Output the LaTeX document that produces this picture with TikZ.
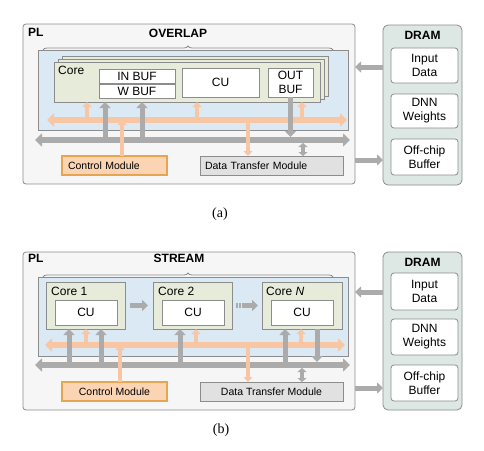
\documentclass[tikz,border=0pt]{standalone}
\usepackage{fontspec}
\setmainfont{Liberation Sans}
\newfontfamily\capfont{Liberation Serif}
\usetikzlibrary{arrows.meta,decorations.pathreplacing}

\definecolor{linegray}{HTML}{8C8C8C}
\definecolor{arrowgray}{HTML}{ABABAB}
\definecolor{plfill}{HTML}{F6F6F6}
\definecolor{bluefill}{HTML}{DAE9F4}
\definecolor{corefill}{HTML}{E7EBDA}
\definecolor{dramfill}{HTML}{DDE7E4}
\definecolor{dtmfill}{HTML}{E1E1E1}
\definecolor{peach}{HTML}{F8C6A2}
\definecolor{ctrlfill}{HTML}{FBD4B4}
\definecolor{ctrlline}{HTML}{E9A452}

\begin{document}
\begin{tikzpicture}[x=1pt,y=-1pt]
\useasboundingbox (0,0) rectangle (484,450);

\tikzset{box/.style = {draw=linegray, line width=0.8pt, inner sep=0pt, outer sep=0pt}}
\tikzset{txt/.style = {font=\fontsize{12}{14}\selectfont, inner sep=0pt}}
\tikzset{small/.style = {font=\fontsize{10.5}{12}\selectfont}}
\tikzset{title/.style = {font=\bfseries\fontsize{12}{14}\selectfont, inner sep=0pt}}
\tikzset{topbrace/.style = {draw=linegray, line width=0.8pt, decorate, decoration={brace,amplitude=4pt}}}
\tikzset{garrow/.style = {draw=arrowgray, line width=5pt, -{Triangle[length=6pt,width=11pt]}}}
\tikzset{gdouble/.style = {draw=arrowgray, line width=4pt, {Triangle[length=4pt,width=9pt]}-{Triangle[length=4pt,width=9pt]}}}
\tikzset{gbar/.style = {draw=arrowgray, line width=6pt, {Triangle[length=7pt,width=13pt]}-{Triangle[length=7pt,width=13pt]}}}
\tikzset{oarrow/.style = {draw=peach, line width=4pt, -{Triangle[length=5pt,width=9pt]}}}
\tikzset{obar/.style = {draw=peach, line width=6pt, {Triangle[length=7pt,width=13pt]}-{Triangle[length=7pt,width=13pt]}}}

% (a) overlap
\node[box, fill=plfill, rounded corners=3pt, minimum width=332pt, minimum height=160pt] (apl) at (189,104) {};
\node[title, anchor=west] (apltext) at (28,32) {PL};
\node[title] (atitle) at (178,33) {OVERLAP};
\draw[topbrace] (43,50) -- (333,50);
\node[box, fill=bluefill, minimum width=310pt, minimum height=80pt] (ablue) at (193,90) {};
\node[box, fill=corefill, minimum width=266pt, minimum height=40pt] (acore3) at (195,76) {};
\node[box, fill=corefill, minimum width=266pt, minimum height=40pt] (acore2) at (191,79) {};
\node[box, fill=corefill, minimum width=266pt, minimum height=40pt] (acore) at (187,82) {};
\node[txt, anchor=base west] (acoretext) at (58,74) {Core};
\node[box, txt, fill=white, minimum width=76pt, minimum height=14pt] (ainbuf) at (137,76) {IN BUF};
\node[box, txt, fill=white, minimum width=76pt, minimum height=14pt] (awbuf) at (137,91) {W BUF};
\node[box, txt, fill=white, minimum width=77pt, minimum height=29pt] (acu) at (220.5,82.5) {CU};
\node[box, txt, fill=white, align=center, minimum width=45pt, minimum height=29pt] (aoutbuf) at (290.5,82.5) {OUT\\BUF};
\node[box, small, fill=ctrlfill, draw=ctrlline, line width=1.2pt, text width=93pt, inner xsep=6pt, align=left, minimum height=19pt] (actrl) at (114.5,165.5) {Control Module};
\node[box, small, fill=dtmfill, text width=133pt, inner xsep=5pt, align=left, minimum height=19pt] (adtm) at (271.5,165.5) {Data Transfer Module};

\node[box, fill=dramfill, rounded corners=5pt, minimum width=79pt, minimum height=160pt] (adram) at (422.5,105) {};
\node[title] (adramtext) at (422.5,35.5) {DRAM};
\node[box, txt, fill=white, rounded corners=3pt, align=center, minimum width=67pt, minimum height=35pt] (ainput) at (424.5,65.5) {Input\\Data};
\node[box, txt, fill=white, rounded corners=3pt, align=center, minimum width=67pt, minimum height=34pt] (aweights) at (424.5,111) {DNN\\Weights};
\node[box, txt, fill=white, rounded corners=3pt, align=center, minimum width=67pt, minimum height=36pt] (aoffchip) at (424.5,157) {Off-chip\\Buffer};

% bars
\coordinate (aoL) at (47,120);
\coordinate (aoR) at (347,120);
\coordinate (agL) at (35,140);
\coordinate (agR) at (350,140);
\draw[obar] (aoL) -- (aoR);
\coordinate (ao1) at (87,120);
\coordinate (ao2) at (197,120);
\coordinate (ao3) at (302,120);
\draw[oarrow] (ao1) -- (ao1 |- acore.south);
\draw[oarrow] (ao2) -- (ao2 |- acore.south);
\draw[oarrow] (ao3) -- (ao3 |- acore.south);
\draw[gbar] (agL) -- (agR);
\coordinate (ag1) at (105,140);
\coordinate (ag2) at (142,140);
\coordinate (ag3) at (303,140);
\draw[garrow] (ag1) -- (ag1 |- acore.south);
\draw[garrow] (ag2) -- (ag2 |- acore.south);
\draw[garrow, shorten >=3pt] (aoutbuf.south) -- (aoutbuf.south |- agL);
\draw[gdouble, shorten <=3pt] (ag3) -- (ag3 |- adtm.north);
\coordinate (ac1) at (122,120);
\coordinate (ac2) at (248,120);
\draw[oarrow] (ac1 |- actrl.north) -- (ac1);
\draw[oarrow] (ac2) -- (ac2 |- adtm.north);

% dram links
\draw[garrow] (adram.west |- 0,67) -- (apl.east |- 0,67);
\draw[garrow] (apl.east |- 0,160) -- (adram.west |- 0,160);

\node[font=\fontsize{14}{16}\selectfont] (acap) at (220,214) {\capfont (a)};

% (b) stream
\begin{scope}[shift={(0,226)}]
\node[box, fill=plfill, rounded corners=3pt, minimum width=332pt, minimum height=158pt] (bpl) at (189,105) {};
\node[title, anchor=west] (bpltext) at (28,32) {PL};
\node[title] (btitle) at (179,32) {STREAM};
\draw[topbrace] (43,51) -- (333,51);
\node[box, fill=bluefill, minimum width=310pt, minimum height=79pt] (bblue) at (193,90.5) {};
\node[box, fill=corefill, minimum width=79pt, minimum height=47pt] (bcore1) at (85.5,79.5) {};
\node[box, fill=corefill, minimum width=79pt, minimum height=47pt] (bcore2) at (192.5,79.5) {};
\node[box, fill=corefill, minimum width=80pt, minimum height=47pt] (bcoreN) at (302,79.5) {};
\node[txt, anchor=base west] (bcoretext1) at (51,69) {Core 1};
\node[txt, anchor=base west] (bcoretext2) at (158,69) {Core 2};
\node[txt, anchor=base west] (bcoretextN) at (266,69) {Core \textit{N}};
\node[box, txt, fill=white, minimum width=62pt, minimum height=25pt] (bcu1) at (86,86.5) {CU};
\node[box, txt, fill=white, minimum width=62pt, minimum height=25pt] (bcu2) at (193,86.5) {CU};
\node[box, txt, fill=white, minimum width=62pt, minimum height=25pt] (bcuN) at (302,86.5) {CU};
\node[box, small, fill=ctrlfill, draw=ctrlline, line width=1.2pt, minimum width=105pt, minimum height=19pt] (bctrl) at (114.5,165.5) {Control Module};
\node[box, small, fill=dtmfill, minimum width=143pt, minimum height=19pt] (bdtm) at (271.5,165.5) {Data Transfer Module};

\node[box, fill=dramfill, rounded corners=5pt, minimum width=79pt, minimum height=158pt] (bdram) at (422.5,105) {};
\node[title] (bdramtext) at (422.5,36) {DRAM};
\node[box, txt, fill=white, rounded corners=3pt, align=center, minimum width=67pt, minimum height=37pt] (binput) at (424.5,65.5) {Input\\Data};
\node[box, txt, fill=white, rounded corners=3pt, align=center, minimum width=67pt, minimum height=36pt] (bweights) at (424.5,111) {DNN\\Weights};
\node[box, txt, fill=white, rounded corners=3pt, align=center, minimum width=67pt, minimum height=36pt] (boffchip) at (424.5,157) {Off-chip\\Buffer};

% core chain
\draw[garrow, shorten <=5pt, shorten >=5pt] (bcore1) -- (bcore2);
\draw[garrow, dash pattern=on 1.5pt off 1.5pt on 1.5pt off 1.5pt on 30pt, shorten <=4pt, shorten >=4pt] (bcore2) -- (bcoreN);

% bars
\coordinate (boL) at (45,119);
\coordinate (boR) at (345,119);
\coordinate (bgL) at (35,139);
\coordinate (bgR) at (350,139);
\draw[obar] (boL) -- (boR);
\coordinate (bo1) at (86,119);
\coordinate (bo2) at (196,119);
\coordinate (bo3) at (301,119);
\draw[oarrow] (bo1) -- (bo1 |- bcore1.south);
\draw[oarrow] (bo2) -- (bo2 |- bcore2.south);
\draw[oarrow] (bo3) -- (bo3 |- bcoreN.south);
\draw[gbar] (bgL) -- (bgR);
\coordinate (bg1) at (69,139);
\coordinate (bg2) at (101,139);
\coordinate (bg3) at (180,139);
\coordinate (bg4) at (285,139);
\coordinate (bg5) at (317,139);
\coordinate (bg6) at (302,139);
\draw[garrow] (bg1) -- (bg1 |- bcore1.south);
\draw[garrow] (bg2) -- (bg2 |- bcore1.south);
\draw[garrow] (bg3) -- (bg3 |- bcore2.south);
\draw[garrow] (bg4) -- (bg4 |- bcoreN.south);
\draw[garrow, shorten >=3pt] (bg5 |- bcoreN.south) -- (bg5);
\draw[gdouble, shorten <=3pt] (bg6) -- (bg6 |- bdtm.north);
\coordinate (bc1) at (120,119);
\coordinate (bc2) at (248,119);
\draw[oarrow] (bc1 |- bctrl.north) -- (bc1);
\draw[oarrow] (bc2) -- (bc2 |- bdtm.north);

% dram links
\draw[garrow] (bdram.west |- 0,66) -- (bpl.east |- 0,66);
\draw[garrow] (bpl.east |- 0,162) -- (bdram.west |- 0,162);
\end{scope}

\node[font=\fontsize{14}{16}\selectfont] (bcap) at (221,430) {\capfont (b)};

\end{tikzpicture}
\end{document}
